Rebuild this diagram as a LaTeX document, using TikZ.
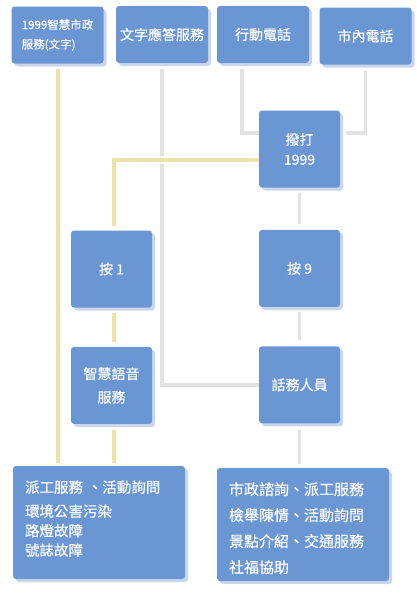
\documentclass[tikz,border=0pt]{standalone}
\usepackage{fontspec}
\setmainfont{Noto Sans CJK TC}[FakeBold=0.4]
\usepackage{xcolor}
\usepackage{tikz}
\usetikzlibrary{positioning,shadows}

\definecolor{boxblue}{HTML}{6B96D4}
\definecolor{shadowblue}{HTML}{C9D6EE}
\definecolor{lineyellow}{HTML}{EFE2A8}
\definecolor{linegray}{HTML}{E3E3E3}

\begin{document}
\begin{tikzpicture}[
      x=1pt, y=-1pt,
      mybox/.style={
         rectangle,
         rounded corners=3pt,
         fill=boxblue,
         text=white,
         general shadow={fill=shadowblue, shadow xshift=3pt, shadow yshift=-3pt},
         inner sep=2pt,
         align=center,
         font=\fontsize{14}{20}\selectfont},
      topbox/.style={mybox, minimum width=92pt, minimum height=57pt},
      midbox/.style={mybox, minimum width=81pt, minimum height=77pt},
      endbox/.style={mybox, minimum width=172pt, minimum height=113pt,
         align=left, text width=148pt},
      grayline/.style={draw=linegray, line width=3.5pt},
      yellowline/.style={draw=white, double=lineyellow, double distance=4pt, line width=2pt},
      node distance=39pt and 1cm
      ]
\useasboundingbox (0,0) rectangle (417,598);

\node[topbox, align=left, font=\fontsize{11.5}{19.5}\selectfont] (app) at (57.5,35) {1999智慧市政\\服務(文字)};
\node[topbox] (text) at (162,34.5) {文字應答服務};
\node[topbox] (mobile) at (263,34.5) {行動電話};
\node[topbox] (local) at (365.5,36) {市內電話};

\node[midbox] (dial) at (299.5,149) {撥打\\1999};
\node[midbox, below=42pt of dial] (press9) {按 9};
\node[midbox, below=of press9] (agent) {話務人員};

\node[midbox] (press1) at (111.5,269) {按 1};
\node[midbox, below=of press1, font=\fontsize{14}{23.5}\selectfont] (voice) {智慧語音\\服務};

\node[endbox, font=\fontsize{14.5}{19.5}\selectfont] (left) at (99,522.5)
   {派工服務 、活動詢問\\[4.5pt]環境公害污染\\路燈故障\\號誌故障\rule[-9pt]{0pt}{0pt}};
\node[endbox, font=\fontsize{15}{26}\selectfont] (right) at (303,524.5)
   {\rule{0pt}{20pt}市政諮詢、派工服務\\檢舉陳情、活動詢問\\景點介紹、交通服務\\社福協助};

% gray lines
\draw[grayline, shorten <=6pt] (text.south) |- (agent.west);
\draw[grayline, shorten <=6pt] ([xshift=-21pt]mobile.south) |- ([yshift=16pt]dial.west);
\draw[grayline, shorten <=6pt, shorten >=6pt] (local.south) |- ([yshift=16pt]dial.east);
\foreach \i/\j in {dial/press9,press9/agent}
      \draw[grayline, shorten <=5pt, shorten >=6pt] (\i) -- (\j);
\draw[grayline, shorten <=6pt, shorten >=4pt] (agent.south) -- (agent.south |- right.north);

% yellow lines
\draw[yellowline, shorten >=4pt] ([yshift=-11pt]dial.west) -| ([xshift=2pt]press1.north);
\draw[yellowline, shorten <=5pt, shorten >=5pt] ([xshift=2pt]press1.south) -- ([xshift=2pt]voice.north);
\draw[yellowline, shorten <=6pt, shorten >=3pt] ([xshift=2pt]voice.south) -- ([xshift=2pt]voice.south |- left.north);
\draw[yellowline, shorten <=5pt, shorten >=3pt] (app.south) -- (app.south |- left.north);

\end{tikzpicture}
\end{document}
